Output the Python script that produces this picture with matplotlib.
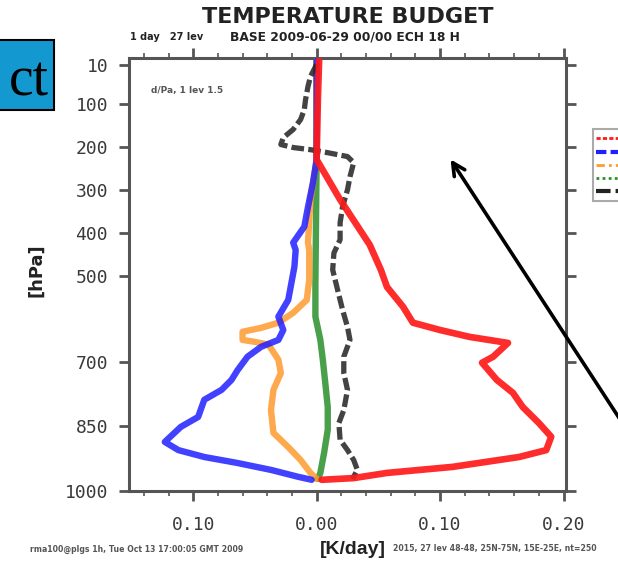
import matplotlib
matplotlib.use("Agg")
import matplotlib.pyplot as plt
from matplotlib.lines import Line2D
from matplotlib.patches import Rectangle
from matplotlib.ticker import MultipleLocator

# ---- heating-rate profiles (K/day) on pressure (hPa) ----
red_p = [0, 90, 230, 323, 428, 486, 526, 572, 609, 626, 642, 656, 688, 702, 742,
         772, 805, 842, 874, 905, 921, 944, 958, 970, 974]
red_v = [0.002, 0.001, 0.000, 0.019, 0.043, 0.052, 0.057, 0.070, 0.078, 0.100,
         0.124, 0.155, 0.143, 0.134, 0.146, 0.159, 0.167, 0.180, 0.190, 0.186,
         0.164, 0.110, 0.057, 0.030, 0.004]

blue_p = [0, 230, 284, 340, 386, 423, 440, 479, 556, 595, 626, 649, 665, 688, 719,
          742, 765, 788, 828, 851, 886, 905, 921, 935, 951, 967, 974]
blue_v = [0.000, 0.000, -0.003, -0.007, -0.010, -0.019, -0.017, -0.018, -0.023,
          -0.031, -0.027, -0.031, -0.045, -0.056, -0.064, -0.069, -0.077, -0.091,
          -0.096, -0.110, -0.123, -0.112, -0.091, -0.064, -0.037, -0.015, -0.004]

orange_p = [0, 230, 323, 423, 440, 509, 556, 586, 609, 621, 630, 649, 653, 660,
            695, 726, 765, 812, 865, 898, 928, 958, 972]
orange_v = [0.000, 0.000, -0.005, -0.007, -0.006, -0.006, -0.008, -0.019, -0.031,
            -0.045, -0.060, -0.060, -0.051, -0.039, -0.031, -0.029, -0.035, -0.037,
            -0.035, -0.023, -0.013, -0.005, 0.000]

green_p = [0, 230, 516, 595, 649, 695, 749, 805, 858, 912, 958, 972]
green_v = [0.000, 0.000, -0.001, -0.001, 0.003, 0.005, 0.007, 0.009, 0.009, 0.006,
           0.003, 0.001]

black_p = [9, 37, 60, 91, 114, 137, 160, 179, 195, 202, 207, 214, 223, 237, 270,
           300, 340, 377, 416, 447, 486, 533, 579, 619, 649, 688, 726, 765, 812,
           842, 881, 905, 928, 951, 972]
black_v = [0.000, -0.005, -0.007, -0.009, -0.010, -0.013, -0.019, -0.027, -0.029,
           -0.019, -0.005, 0.009, 0.025, 0.030, 0.027, 0.025, 0.021, 0.019, 0.019,
           0.014, 0.013, 0.017, 0.021, 0.025, 0.027, 0.022, 0.022, 0.025, 0.022,
           0.018, 0.019, 0.025, 0.030, 0.033, 0.029]

p_ticks = [10, 100, 200, 300, 400, 500, 700, 850, 1000]
p_ticklabels = ["10", "100", "200", "300", "400", "500", "700", "850", "1000"]
x_ticks = [-0.10, 0.00, 0.10, 0.20]
x_ticklabels = ["0.10", "0.00", "0.10", "0.20"]

W, H = 618, 573
fig = plt.figure(figsize=(W / 100, H / 100), dpi=100)
fig.patch.set_facecolor("white")


def fx(x):
    return x / W


def fy(y):
    return 1 - y / H


ax = fig.add_axes([fx(129), fy(491), fx(566) - fx(129), fy(58) - fy(491)])

ax.plot(green_v, green_p, color="#2a8f2a", lw=4.6, alpha=0.85, solid_capstyle="round", zorder=3)
ax.plot(orange_v, orange_p, color="#ff9a30", lw=4.6, alpha=0.85, solid_capstyle="round", zorder=3)
ax.plot(blue_v, blue_p, color="#2020ff", lw=4.6, alpha=0.85, solid_capstyle="round", zorder=3)
ax.plot(black_v, black_p, color="#222222", lw=3.8, alpha=0.85, dashes=(2.4, 0.8), zorder=4)
ax.plot(red_v, red_p, color="#ff1a1a", lw=4.8, alpha=0.92, solid_capstyle="round", zorder=5)

ax.set_xlim(-0.152, 0.202)
ax.set_ylim(1000, -6)

ax.set_yticks(p_ticks)
ax.set_yticklabels(p_ticklabels)
ax.set_xticks(x_ticks)
ax.set_xticklabels(x_ticklabels)
ax.xaxis.set_minor_locator(MultipleLocator(0.02))

for lab in ax.get_xticklabels() + ax.get_yticklabels():
    lab.set_fontfamily("DejaVu Sans Mono")
    lab.set_fontsize(13)
    lab.set_color("#3a3a3a")

ax.tick_params(axis="both", which="major", direction="out", length=7, width=2,
               color="#555555", top=True, right=True)
ax.tick_params(axis="x", which="major", pad=11)
ax.tick_params(axis="y", which="major", pad=8)
ax.tick_params(axis="x", which="minor", direction="out", length=3.5, width=1.2,
               color="#555555", top=True)
for s in ax.spines.values():
    s.set_color("#555555")
    s.set_linewidth(2.2)

ax.text(0.05, 0.92, "d/Pa, 1 lev 1.5", transform=ax.transAxes, fontsize=6.5,
        fontweight="bold", color="#555555")

# ---- titles and axis labels ----
fig.text(fx(348), fy(23), "TEMPERATURE BUDGET", ha="center", va="baseline",
         fontsize=16, fontweight="bold", color="#222222")
fig.text(fx(130), fy(37), "1 day   27 lev", ha="left", va="center",
         fontsize=7, fontweight="bold", color="#222222")
fig.text(fx(230), fy(37), "BASE 2009-06-29 00/00 ECH 18 H", ha="left", va="center",
         fontsize=8.8, fontweight="bold", color="#222222")
fig.text(fx(36), fy(270), "[hPa]", ha="center", va="center", rotation=90,
         fontsize=13, fontweight="bold", color="#222222")
fig.text(fx(353), fy(549), "[K/day]", ha="center", va="center",
         fontsize=14, fontweight="bold", color="#222222", family="Liberation Sans")
fig.text(fx(30), fy(549), "rma100@plgs 1h, Tue Oct 13 17:00:05 GMT 2009",
         ha="left", va="center", fontsize=5.6, fontweight="bold", color="#555555")
fig.text(fx(393), fy(549), "2015, 27 lev 48-48, 25N-75N, 15E-25E, nt=250",
         ha="left", va="center", fontsize=5.6, fontweight="bold", color="#555555")

# ---- legend box running off the right edge ----
fig.add_artist(Rectangle((fx(593), fy(201)), fx(120), fy(129) - fy(201),
                         transform=fig.transFigure, facecolor="white",
                         edgecolor="#aaaaaa", lw=1.5, clip_on=False))
legend_rows = [
    (138, "#ff1a1a", (1.5, 0.8), 2.0),
    (152, "#2020ff", (2.5, 1.0), 3.0),
    (165, "#ff9a30", (3.0, 1.5, 1.0, 1.5), 2.0),
    (178, "#2a8f2a", (1.0, 1.2), 2.0),
    (191, "#222222", (3.5, 1.2), 3.0),
]
for yy, col, dsh, lw in legend_rows:
    fig.add_artist(Line2D([fx(596), fx(640)], [fy(yy), fy(yy)], color=col, lw=lw,
                          dashes=dsh, transform=fig.transFigure))

# ---- slide box and pointer ----
fig.add_artist(Rectangle((fx(-5), fy(110)), fx(59), fy(40) - fy(110),
                         transform=fig.transFigure, facecolor="#1399cf",
                         edgecolor="black", lw=1.5, clip_on=False))
fig.text(fx(49), fy(96), "ct", ha="right", va="baseline", fontsize=40,
         family="Liberation Serif", color="black")
ax.annotate("", xy=(449, H - 157), xycoords="figure pixels",
            xytext=(640, H - 450), textcoords="figure pixels",
            arrowprops=dict(arrowstyle="->,head_length=0.9,head_width=0.45",
                            color="black", lw=2.6),
            annotation_clip=False)

fig.savefig("out.png", dpi=100)
